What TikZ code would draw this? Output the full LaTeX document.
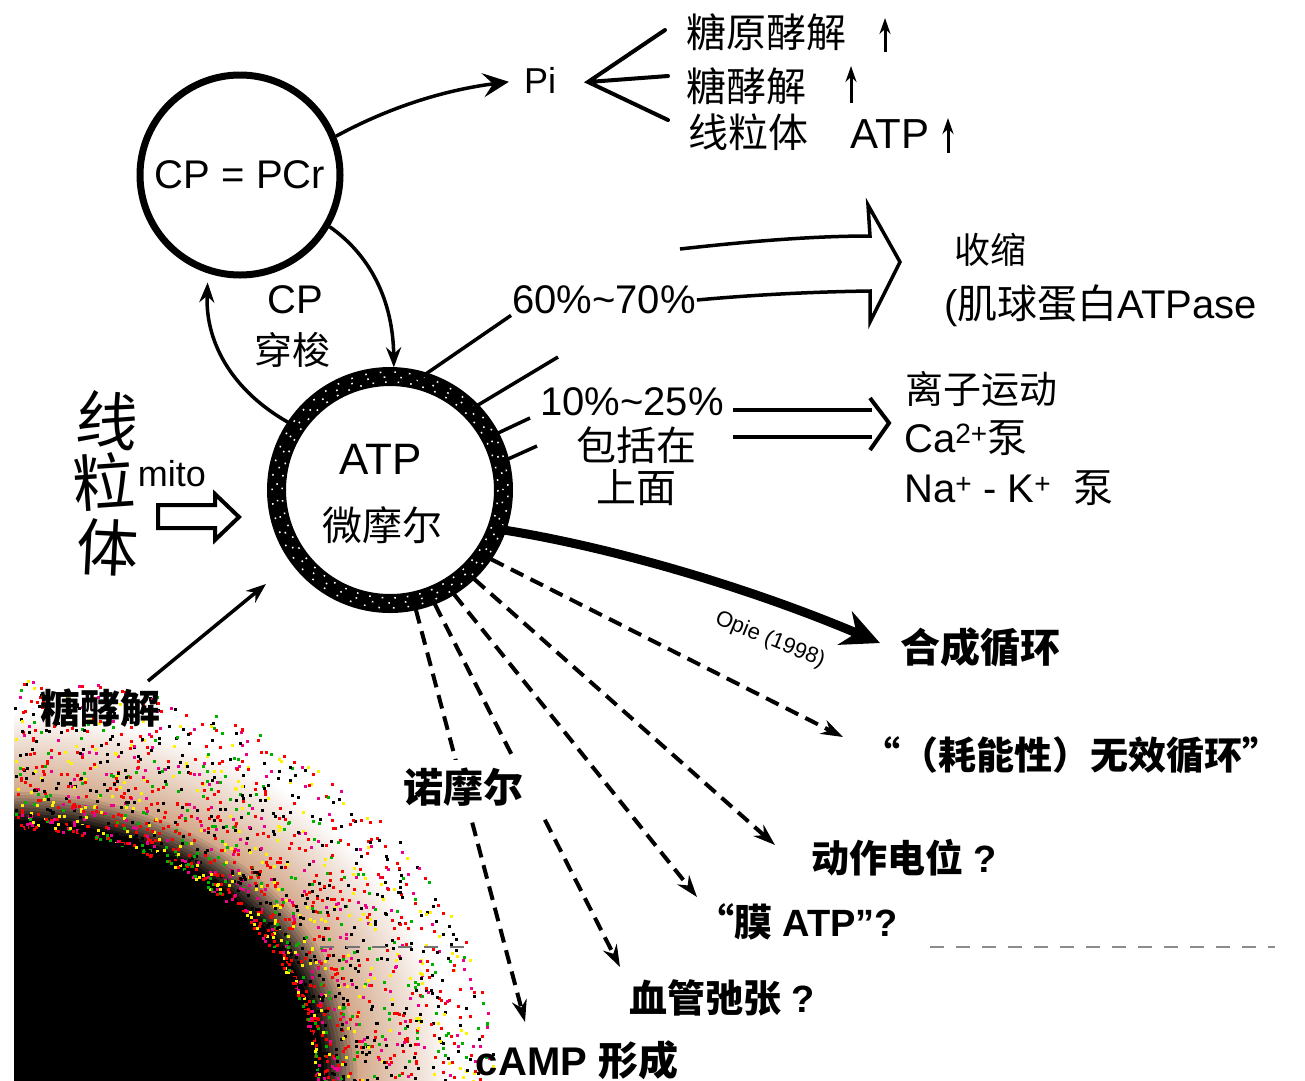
\documentclass[tikz,border=0pt]{standalone}
\usepackage{fontspec}
\setmainfont{Liberation Sans}
\newfontfamily\cjk{Noto Sans CJK SC}
\usetikzlibrary{arrows.meta}
\newcommand\fsz[1]{\fontsize{#1}{#1}\selectfont}
\newcommand\zh[1]{{\cjk #1}}
\definecolor{noisebase}{RGB}{212,170,140}
\tikzset{
  txt/.style={inner sep=1pt, text=black},
  thinline/.style={line width=3.5pt},
  dasharrow/.style={line width=4pt, dash pattern=on 14pt off 8pt, shorten <=9pt,
    -{Stealth[length=22pt,width=15pt]}},
  solidtip/.style={-{Stealth[length=20pt,width=15pt]}},
  uparrow/.style={line width=3pt, -{Stealth[length=16pt,width=11pt]}},
}
\begin{document}
\begin{tikzpicture}[x=1pt,y=-1pt]
\useasboundingbox (0,0) rectangle (1305,1080);
\fill[white] (0,0) rectangle (1305,1080);
% scanned shadow in the lower left corner
\begin{scope}
  \clip (14,600) rectangle (640,1080);
  \foreach \i in {0,...,30} {
    \pgfmathsetmacro\tt{1.42-0.30*\i/30}
    \pgfmathsetmacro\rx{310*\tt}
    \pgfmathsetmacro\ry{260*\tt}
    \pgfmathtruncatemacro\qq{100*\i/30}
    \fill[noisebase!\qq!white] (14,1080) ellipse [x radius=\rx, y radius=\ry];
  }
  \foreach \i in {0,...,10} {
    \pgfmathsetmacro\tt{1.12-0.12*\i/10}
    \pgfmathsetmacro\rx{310*\tt}
    \pgfmathsetmacro\ry{260*\tt}
    \pgfmathtruncatemacro\pp{100*\i/10}
    \fill[black!\pp!noisebase] (14,1080) ellipse [x radius=\rx, y radius=\ry];
  }
  \pgfmathsetseed{42}
  \foreach \k in {1,...,1900} {
    \pgfmathsetmacro\ang{90*rnd}
    \pgfmathsetmacro\tt{0.97+0.58*(rnd^1.6)}
    \pgfmathsetmacro\px{14+310*\tt*cos(\ang)}
    \pgfmathsetmacro\py{1080-260*\tt*sin(\ang)}
    \pgfmathtruncatemacro\cc{int(7*rnd)}
    \ifcase\cc \def\col{black}\or \def\col{red}\or \def\col{yellow}\or \def\col{black}\or
      \def\col{red}\or \def\col{green!70!black}\or \def\col{magenta}\else \def\col{black}\fi
    \fill[\col] (\px,\py) rectangle ++(3,3);
  }
\end{scope}
\draw[black!55, line width=2pt, dash pattern=on 14pt off 12pt] (320,947) -- (470,947);
\draw[black!45, line width=1.5pt, dash pattern=on 14pt off 12pt] (930,947) -- (1275,947);

% ---------- CP circle ----------
\node[circle, draw, line width=7pt, minimum size=200pt, inner sep=0, font=\fsz{40}] (cp) at (240,175) {CP = PCr};

% ---------- ATP circle ----------
\node[circle, minimum size=227pt, inner sep=0] (atp) at (390,490) {};
\draw[line width=19pt] (atp.center) circle (113.5);
\draw[white, line width=1.5pt, dash pattern=on 1.6pt off 11pt] (atp.center) circle (108);
\draw[white, line width=1.5pt, dash pattern=on 1.6pt off 15pt, dash phase=5pt] (atp.center) circle (113);
\draw[white, line width=1.5pt, dash pattern=on 1.6pt off 13pt, dash phase=9pt] (atp.center) circle (118);
\node[txt, font=\fsz{44}] (atpname) at (381,459) {ATP};
\node[txt, font=\cjk\fsz{40}] (atpunit) at (382,525) {微摩尔};

% ---------- Pi and its targets ----------
\node[txt, font=\fsz{36}] (pi) at (540,80) {Pi};
\node[txt, font=\cjk\fsz{40}] (gly1) at (766,32) {糖原酵解};
\node[txt, font=\cjk\fsz{40}] (gly2) at (746,86) {糖酵解};
\node[txt, font=\cjk\fsz{40}] (mitot) at (748,132) {线粒体};
\node[txt, font=\fsz{42}] (atpr) at (890,134) {ATP};
\coordinate (fan) at (588,82);
\coordinate (f1) at (665,30);
\coordinate (f2) at (668,76);
\coordinate (f3) at (668,120);
\draw[line width=4pt, line cap=round] (f1) -- (fan) -- (f3) (fan) -- (f2);
\coordinate (u1a) at (885,52); \coordinate (u1b) at (885,18);
\coordinate (u2a) at (851,103); \coordinate (u2b) at (851,66);
\coordinate (u3a) at (948,153); \coordinate (u3b) at (948,118);
\draw[uparrow] (u1a) -- (u1b);
\draw[uparrow] (u2a) -- (u2b);
\draw[uparrow] (u3a) -- (u3b);

\draw[line width=3.5pt, shorten >=14pt, -{Stealth[length=26pt,width=24pt,inset=10pt]}]
  (cp.22) .. controls (375,115) and (430,92) .. (pi.west);

% ---------- CP shuttle ----------
\node[txt, font=\fsz{40}] (cplab) at (295,300) {CP};
\node[txt, font=\cjk\fsz{38}] (shuttle) at (292,350) {穿梭};
\draw[thinline, solidtip, shorten >=9pt] (cp.-30) .. controls (370,255) and (393,300) .. (atp.88);
\draw[thinline, solidtip, shorten >=9pt] (atp.146) .. controls (235,395) and (205,345) .. (cp.252);

% ---------- 60%-70% contraction ----------
\node[txt, font=\fsz{40}] (pct60) at (604,300) {60\%\textasciitilde70\%};
\draw[thinline] (atp.76) -- (pct60.south west);
\coordinate (fatstart) at (680,249);
\draw[thinline, line join=miter]
  (fatstart) .. controls (760,240) and (820,236) .. (870,236) -- (868,205) -- (900,262)
  -- (870,322) -- (870,291) .. controls (800,292) and (740,296) .. (pct60.east);
\node[txt, font=\cjk\fsz{36}] (shousuo) at (990,250) {收缩};
\node[txt, font=\fsz{40}, anchor=west] (jiqiu) at (943,306) {(\zh{肌球蛋白}ATPase};

% ---------- 10%-25% ion movement ----------
\node[txt, font=\fsz{40}] (pct10) at (632,402) {10\%\textasciitilde25\%};
\node[txt, font=\cjk\fsz{40}] (baokuo) at (636,445) {包括在};
\node[txt, font=\cjk\fsz{40}] (shangmian) at (636,488) {上面};
\coordinate (l1) at (558,357);
\coordinate (l2) at (530,418);
\coordinate (l3) at (537,446);
\draw[thinline] (atp.45) -- (l1);
\draw[thinline] (atp.28) -- (l2);
\draw[thinline] (atp.14) -- (l3);
\coordinate (da1) at (733,410); \coordinate (db1) at (872,410);
\coordinate (da2) at (733,437); \coordinate (db2) at (872,437);
\coordinate (dh1) at (870,398); \coordinate (dh2) at (889,423); \coordinate (dh3) at (870,450);
\draw[line width=4pt] (da1) -- (db1) (da2) -- (db2);
\draw[line width=4pt, line join=miter] (dh1) -- (dh2) -- (dh3);
\node[txt, font=\cjk\fsz{38}] (lizi) at (981,389) {离子运动};
\node[txt, font=\fsz{40}, anchor=west] (ca) at (903,438) {Ca\textsuperscript{2+}\zh{泵}};
\node[txt, font=\fsz{40}, anchor=west] (nak) at (903,488) {Na\textsuperscript{+} - K\textsuperscript{+}\ \ \zh{泵}};

% ---------- synthesis cycle ----------
\node[txt, font=\cjk\bfseries\fsz{40}] (hecheng) at (980,647) {合成循环};
\coordinate (hec) at (880,643);
\draw[line width=9pt, -{Stealth[length=38pt,width=36pt]}] (atp.-20) .. controls (620,548) and (760,592) .. (hec);
\node[txt, font=\fsz{22}, rotate=-22] (opie) at (770,640) {Opie (1998)};

% ---------- dashed outputs ----------
\coordinate (d1) at (843,737);
\coordinate (d2) at (775,845);
\coordinate (d3) at (697,897);
\coordinate (d4) at (620,967);
\coordinate (d5) at (525,1022);
\draw[dasharrow] (atp.-35) -- (d1);
\draw[dasharrow] (atp.-47) -- (d2);
\draw[dasharrow] (atp.-59) -- (d3);
\draw[dasharrow] (atp.-69) -- (d4);
\draw[dasharrow] (atp.-78) -- (d5);
\node[fill=white, minimum width=150pt, minimum height=56pt, inner sep=0] (mask) at (473,788) {};
\node[txt, font=\cjk\bfseries\fsz{40}] (nuomoer) at (463,787) {诺摩尔};
\node[txt, font=\cjk\bfseries\fsz{38}] (wuxiao) at (1071,755) {“（耗能性）无效循环”};
\node[txt, font=\bfseries\fsz{38}] (dongzuo) at (904,858) {\zh{动作电位} ?};
\node[txt, font=\bfseries\fsz{38}] (mo) at (797,922) {\zh{“膜} ATP”?};
\node[txt, font=\bfseries\fsz{38}] (xueguan) at (722,998) {\zh{血管弛张} ?};
\node[txt, font=\bfseries\fsz{40}] (camp) at (577,1060) {cAMP \zh{形成}};

% ---------- left side ----------
\node[txt, font=\cjk\bfseries\fsz{40}] (tangjie) at (100,708) {糖酵解};
\coordinate (tj1) at (148,681);
\coordinate (tj2) at (266,584);
\draw[thinline, solidtip] (tj1) -- (tj2);
\node[txt, font=\fsz{36}] (mito) at (172,474) {mito};
\draw[line width=4pt, line join=miter] (158,505) -- (215,505) -- (215,494) -- (239,517)
  -- (215,540) -- (215,528) -- (158,528) -- cycle;
\node[txt, font=\cjk\fsz{62}, rotate=-6] (hw1) at (108,420) {线};
\node[txt, font=\cjk\fsz{62}, rotate=4] (hw2) at (104,482) {粒};
\node[txt, font=\cjk\fsz{62}, rotate=-3] (hw3) at (108,548) {体};
\end{tikzpicture}
\end{document}
